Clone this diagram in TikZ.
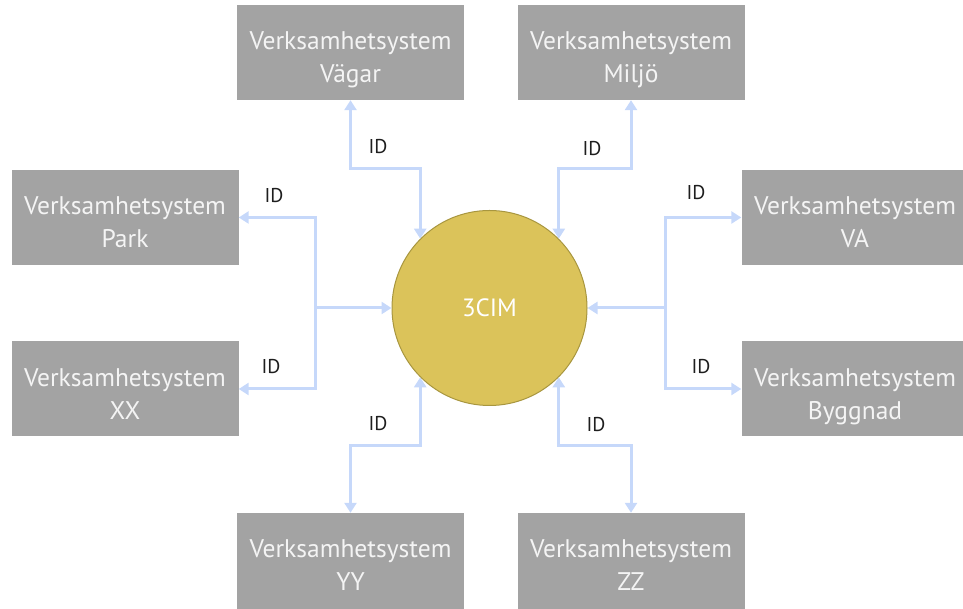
\documentclass[tikz,border=0pt]{standalone}
\usepackage{fontspec}
\setmainfont{PT Sans}
\usetikzlibrary{arrows.meta}
\definecolor{boxgray}{HTML}{A3A3A3}
\definecolor{boxtext}{HTML}{F4F4F4}
\definecolor{hubfill}{HTML}{DBC35A}
\definecolor{hubline}{HTML}{A8963F}
\definecolor{linkblue}{HTML}{C6D8FA}
\definecolor{idtext}{HTML}{1E1E1E}
% two-line caption of a system box, with fixed line heights
\newcommand{\syscaption}[1]{\strut Verksamhetsystem\\\strut #1}
\begin{document}
\begin{tikzpicture}[x=1pt,y=1pt,
  sysbox/.style={fill=boxgray, draw=none, minimum width=227pt, minimum height=95pt,
    inner sep=0pt},
  systext/.style={text=boxtext, align=center, yshift=-7pt, inner sep=0pt,
    font=\fontsize{25.5}{33}\selectfont},
  hub/.style={circle, fill=hubfill, draw=hubline, line width=1pt, minimum size=195pt,
    text=white, font=\fontsize{25}{30}\selectfont, inner sep=0pt},
  link/.style={draw=linkblue, line width=3pt,
    {Triangle[length=10pt,width=12pt]}-{Triangle[length=10pt,width=12pt]}},
  linkin/.style={draw=linkblue, line width=3pt, -{Triangle[length=10pt,width=12pt]}},
  idlabel/.style={text=idtext, font=\fontsize{20}{24}\selectfont, inner sep=0pt}]
\useasboundingbox (0,0) rectangle (963,609);

% central hub
\node[hub] (c) at (489.5,301) {3CIM};

% surrounding systems
\node[sysbox, label={[systext]center:{\syscaption{Vägar}}}] (vag) at (350.5,556.5) {};
\node[sysbox, label={[systext]center:{\syscaption{Miljö}}}] (mil) at (631,556.5) {};
\node[sysbox, label={[systext]center:{\syscaption{Park}}}] (park) at (125,391.5) {};
\node[sysbox, label={[systext]center:{\syscaption{XX}}}] (xx) at (125,220) {};
\node[sysbox, label={[systext]center:{\syscaption{VA}}}] (va) at (855,391.5) {};
\node[sysbox, label={[systext]center:{\syscaption{Byggnad}}}] (byg) at (855,220) {};
\node[sysbox, minimum height=97pt, label={[systext, yshift=1pt]center:{\syscaption{YY}}}] (yy) at (350.5,47.5) {};
\node[sysbox, minimum height=97pt, label={[systext, yshift=1pt]center:{\syscaption{ZZ}}}] (zz) at (631,47.5) {};

% junction points of the side trunks and the bends
\coordinate (lj) at (315,301);
\coordinate (rj) at (665,301);
\coordinate (tlb) at (350.5,440);
\coordinate (trb) at (631,440);
\coordinate (blb) at (350.5,163);
\coordinate (brb) at (631,163);

% connectors
\draw[link] (vag.south) -- (tlb) -| (c.135);
\draw[link] (mil.south) -- (trb) -| (c.45);
\draw[link] (yy.north) -- (blb) -| (c.225);
\draw[link] (zz.north) -- (brb) -| (c.315);
\draw[link] (park.east) -| (lj) |- (xx.east);
\draw[linkin] (lj) -- (c.west);
\draw[link] (va.west) -| (rj) |- (byg.west);
\draw[linkin] (rj) -- (c.east);

% ID labels
\node[idlabel] (id1) at (378,462) {ID};
\node[idlabel] (id2) at (592,460) {ID};
\node[idlabel] (id3) at (274,413) {ID};
\node[idlabel] (id4) at (271,242) {ID};
\node[idlabel] (id5) at (696,416) {ID};
\node[idlabel] (id6) at (701,242) {ID};
\node[idlabel] (id7) at (378,185) {ID};
\node[idlabel] (id8) at (596,184) {ID};
\end{tikzpicture}
\end{document}
